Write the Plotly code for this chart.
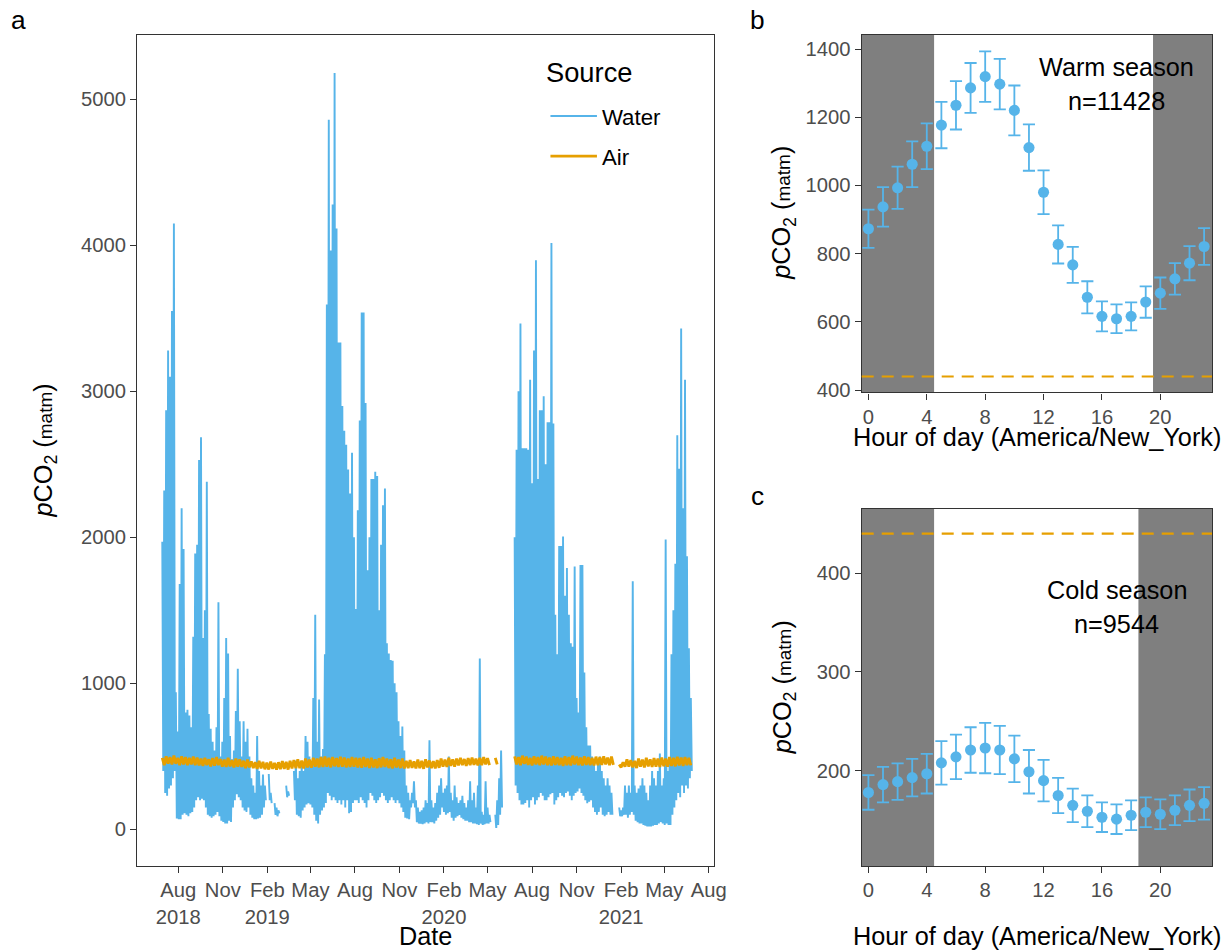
import pandas as pd
import plotly.graph_objects as go

# ---------------- data ----------------
START = pd.Timestamp("2018-06-29")   # first logged day
STEP_W = 4                            # days between water envelope samples
STEP_A = 8                            # days between air envelope samples

# water pCO2 envelope (upper / lower values per 4-day window), None = no data
water_hi = [
    1970, 2320, 2870, 3280, 3100, 3550, 4150, 940, 670, 1680,
    2200, 1920, 800, 820, 780, 700, 1320, 1890, 1950, 2530,
    2685, 1310, 1500, 2380, 790, 690, 600, 540, 700, 1555,
    500, 600, 900, 1310, 1205, 640, 480, 540, 810, 1100,
    740, 500, 740, 600, 690, 500, 350, 300, 250, 640,
    400, 300, 375, 300, None, 380, 250, None, 180, 150,
    130, None, None, None, 300, 260, None, None, 400, 470,
    350, 400, 450, 400, 640, 600, 500, 450, 900, 1470,
    600, 890, 500, 550, 1200, 3595, 4860, 3965, 4280, 5180,
    4115, 3335, 3335, 2900, 2730, 2635, 2465, 2300, 2580, 2000,
    1510, 2185, 2800, 3540, 3540, 2920, 1775, 2000, 2400, 2400,
    2450, 2420, 1500, 1950, 2220, 2335, 1275, 1205, 1160, 1155,
    1000, 940, 740, 640, 705, 540, 300, 250, 200, 250,
    330, 200, 150, 120, 130, 150, 200, 180, 610, 200,
    150, 180, 250, 300, 350, 250, 280, 300, 500, 250,
    200, 300, 220, 180, 200, 230, 180, 150, 200, 330,
    200, 250, 150, 300, 1170, 120, 100, 330, 150, 100,
    None, None, 100, 200, 350, 540, None, None, None, None,
    None, None, 2000, 2600, 3000, 3465, 2610, 2610, 2610, 2600,
    3080, 2370, 3280, 3897, 2400, 2870, 2870, 2966, 2500, 2788,
    2788, 4015, 2780, 1470, 1200, 1940, 1940, 2005, 1600, 1790,
    1470, 1275, 1250, 1800, 900, 800, 1810, 1810, 1075, 700,
    575, 575, 500, 450, 400, 450, 500, 400, 350, 300,
    350, 300, 250, None, None, None, 150, 130, 150, 300,
    250, 300, 250, 1700, 300, 250, 280, 300, 350, 300,
    250, 200, 300, 400, 350, 300, 400, 520, 300, 350,
    1985, 400, 450, 1200, 1500, 1820, 2700, 2470, 3430, 2200,
    3080, 1870, 1240, 900,
]
water_lo = [
    400, 250, 230, 280, 300, 350, 400, 75, 70, 70,
    100, 110, 100, 90, 110, 120, 150, 200, 220, 200,
    210, 200, 150, 100, 90, 80, 90, 100, 120, 90,
    60, 50, 40, 40, 60, 50, 150, 200, 240, 220,
    200, 150, 130, 120, 150, 100, 80, 70, 70, 75,
    80, 100, 150, 200, None, 200, 180, None, 100, 90,
    110, None, None, None, 220, 230, None, None, 200, 100,
    90, 80, 130, 150, 170, 180, 170, 150, 100, 60,
    40, 100, 130, 150, 180, 250, 230, 200, 220, 200,
    180, 200, 170, 200, 150, 200, 110, 120, 180, 200,
    200, 180, 220, 200, 180, 150, 200, 250, 230, 200,
    180, 200, 220, 250, 230, 200, 180, 200, 220, 200,
    180, 200, 180, 150, 120, 80, 75, 70, 150, 180,
    150, 50, 40, 40, 35, 40, 50, 40, 50, 50,
    40, 60, 80, 100, 150, 120, 100, 110, 120, 80,
    60, 80, 90, 100, 80, 70, 60, 60, 50, 50,
    40, 40, 35, 30, 40, 30, 35, 40, 40, 50,
    None, None, 10, 30, 100, 150, None, None, None, None,
    None, None, 300, 250, 200, 170, 170, 180, 200, 150,
    200, 220, 170, 200, 220, 250, 230, 200, 200, 220,
    240, 250, 170, 200, 220, 250, 230, 220, 250, 260,
    230, 200, 230, 250, 260, 280, 250, 230, 200, 180,
    190, 200, 150, 120, 100, 120, 150, 100, 90, 100,
    120, 100, 100, None, None, None, 90, 90, 100, 100,
    80, 100, 120, 100, 60, 50, 40, 40, 30, 25,
    20, 20, 20, 25, 30, 30, 40, 50, 40, 30,
    40, 30, 30, 100, 150, 200, 250, 220, 300, 250,
    300, 280, 350, 400,
]

# air pCO2 envelope (upper / lower values per 8-day window)
air_hi = [
    490, 500, 495, 505, 490, 500, 495, 490, 498, 492,
    485, 490, 480, 488, 495, 482, 478, 490, 475, 485, 480, 470, 478,
    465, 460, 470, 462, 458, 465, 455, 460, 468, 462, 470, 475, 480, 472, 485, 478,
    490, 485, 495, 500, 490, 495, 488, 498, 492, 485, 495, 490, 488, 495, 485, 490,
    480, 488, 495, 485, 480, 490, 478, 485,
    470, 475, 465, 478, 470, 480, 472, 468, 475, 485, 478, 490,
    480, 485, 490, 482, 488, 492, 485, 490, 495, 488,
    None, 490, None, None, None, None,
    500, 495, 505, 498, 490, 500, 495, 505, 498, 492, 500, 495, 490, 500, 495, 505,
    498, 492, 500, 495, 490, 498, 495, 500, 492, 498,
    None,
    445, 460, 480, 475, 470, 485, 478, 490, 480, 488, 485, 492, 485, 495, 490, 498,
    492, 495, 490,
]
air_lo = [
    440, 450, 445, 450, 440, 445, 440, 445, 440, 438,
    435, 440, 432, 436, 440, 430, 428, 432, 425, 430, 428, 420, 425,
    420, 415, 418, 412, 410, 415, 410, 412, 415, 410, 418, 420, 420, 418, 425, 422,
    430, 425, 428, 430, 425, 432, 428, 430, 425, 428, 430, 425, 422, 428, 420, 425,
    420, 425, 428, 420, 418, 425, 420, 418,
    420, 422, 418, 420, 415, 425, 420, 418, 422, 430, 428, 435,
    430, 438, 440, 435, 440, 442, 438, 440, 445, 440,
    None, 445, None, None, None, None,
    445, 440, 448, 442, 438, 445, 440, 445, 440, 438, 442, 440, 435, 440, 438, 445,
    440, 438, 442, 440, 438, 440, 442, 445, 440, 442,
    None,
    425, 430, 430, 425, 420, 430, 425, 432, 428, 430, 428, 432, 430, 435, 432, 438,
    435, 440, 438,
]

date_range = ["2018-05-08", "2021-08-11"]
date_ticks = ["2018-08-01", "2018-11-01", "2019-02-01", "2019-05-01", "2019-08-01",
              "2019-11-01", "2020-02-01", "2020-05-01", "2020-08-01", "2020-11-01",
              "2021-02-01", "2021-05-01", "2021-08-01"]
date_tick_text = ["Aug<br>2018", "Nov", "Feb<br>2019", "May", "Aug", "Nov",
                  "Feb<br>2020", "May", "Aug", "Nov", "Feb<br>2021", "May", "Aug"]

hours = list(range(24))
warm_mean = [873, 937, 993, 1062, 1115, 1177, 1235, 1286, 1319, 1297, 1220, 1111,
             980, 827, 767, 672, 616, 609, 616, 658, 684, 726, 772, 821]
warm_err = [56, 58, 62, 67, 67, 68, 71, 73, 74, 74, 73, 68,
            64, 56, 53, 47, 44, 42, 41, 46, 46, 46, 50, 54]
cold_mean = [178, 186, 189, 193, 197, 208, 214, 221, 223, 221, 212, 199,
             190, 175, 165, 159, 153, 151, 155, 158, 156, 160, 165, 167]
cold_err = [17.5, 18, 18.5, 19, 20, 22, 22.5, 23, 25.5, 24.5, 23.5, 22,
            21, 17.8, 17, 16, 15, 15, 15, 15, 15, 15, 16, 16.5]
air_mean = 440
warm_n = 11428
cold_n = 9544
warm_dark = [(-1, 4.5), (19.5, 25)]
cold_dark = [(-1, 4.5), (18.5, 25)]

# ---------------- style ----------------
BLUE = "#56B4E9"
ORANGE = "#E69F00"
FONT = "Liberation Sans, Arial, Helvetica, sans-serif"
REF_W, REF_H = 1230, 951     # reference picture size; layout given as fractions of it
K = 1.011                    # compensates the slight shrink seen in the capture
W, H = round(REF_W * K), round(REF_H * K)


def s(v):
    return v * K


TICK_FONT = dict(family=FONT, size=s(20), color="#4D4D4D")
TITLE_SIZE = s(25)


def px_x(p):
    return p / REF_W


def px_y(p):
    return 1 - p / REF_H


def envelope(hi, lo, step):
    xs, ys = [], []
    for k, (h, l) in enumerate(zip(hi, lo)):
        xs.append(START + pd.Timedelta(days=step * k))
        ys.append(h)
        xs.append(START + pd.Timedelta(days=step * k + step / 2))
        ys.append(l)
    return xs, ys


wx, wy = envelope(water_hi, water_lo, STEP_W)
ax_, ay_ = envelope(air_hi, air_lo, STEP_A)

fig = go.Figure()
fig.add_trace(go.Scatter(x=wx, y=wy, mode="lines", name="Water", legendgroup="w",
                         line=dict(color=BLUE, width=s(1.9), simplify=False),
                         connectgaps=False, xaxis="x", yaxis="y"))
fig.add_trace(go.Scatter(x=ax_, y=ay_, mode="lines", name="Air", legendgroup="a",
                         line=dict(color=ORANGE, width=s(2.8), simplify=False),
                         connectgaps=False, xaxis="x", yaxis="y"))

for mean, err, xa, ya in [(warm_mean, warm_err, "x2", "y2"),
                          (cold_mean, cold_err, "x3", "y3")]:
    fig.add_trace(go.Scatter(x=hours, y=mean, mode="markers", showlegend=False,
                             marker=dict(color=BLUE, size=s(11)),
                             error_y=dict(type="data", array=err, color=BLUE,
                                          thickness=s(1.8), width=s(6)),
                             xaxis=xa, yaxis=ya))

shapes = []
for (x0, x1) in warm_dark:
    shapes.append(dict(type="rect", xref="x2", yref="y2 domain", x0=x0, x1=x1,
                       y0=0, y1=1, fillcolor="#7F7F7F", line_width=0, layer="below"))
for (x0, x1) in cold_dark:
    shapes.append(dict(type="rect", xref="x3", yref="y3 domain", x0=x0, x1=x1,
                       y0=0, y1=1, fillcolor="#7F7F7F", line_width=0, layer="below"))
for xr, yr in [("x2 domain", "y2"), ("x3 domain", "y3")]:
    shapes.append(dict(type="line", xref=xr, yref=yr, x0=0, x1=1, y0=air_mean,
                       y1=air_mean, line=dict(color=ORANGE, width=s(2), dash="12px,8px"),
                       layer="above"))

axis_common = dict(showline=True, mirror=True, linecolor="#333333", linewidth=s(1.2),
                   ticks="outside", ticklen=s(6), tickwidth=s(1.2), tickcolor="#333333",
                   showgrid=False, zeroline=False, tickfont=TICK_FONT, tickangle=0)

# panel positions in reference pixels
A_L, A_R, A_T, A_B = 137, 713, 35, 865
B_L, B_R, B_T, B_B = 861, 1211, 35, 392
C_T, C_B = 508, 865

fig.update_layout(
    width=W, height=H, margin=dict(l=0, r=0, t=0, b=0, pad=0),
    paper_bgcolor="white", plot_bgcolor="white",
    font=dict(family=FONT, color="black"),
    xaxis=dict(axis_common, domain=[px_x(A_L), px_x(A_R)], anchor="y",
               type="date", range=date_range, tickvals=date_ticks,
               ticktext=date_tick_text),
    yaxis=dict(axis_common, domain=[px_y(A_B), px_y(A_T)], anchor="x",
               range=[-250, 5440], tickvals=[0, 1000, 2000, 3000, 4000, 5000]),
    xaxis2=dict(axis_common, domain=[px_x(B_L), px_x(B_R)], anchor="y2",
                range=[-0.46, 23.54], tickvals=[0, 4, 8, 12, 16, 20]),
    yaxis2=dict(axis_common, domain=[px_y(B_B), px_y(B_T)], anchor="x2",
                range=[393, 1441], tickvals=[400, 600, 800, 1000, 1200, 1400]),
    xaxis3=dict(axis_common, domain=[px_x(B_L), px_x(B_R)], anchor="y3",
                range=[-0.46, 23.54], tickvals=[0, 4, 8, 12, 16, 20]),
    yaxis3=dict(axis_common, domain=[px_y(C_B), px_y(C_T)], anchor="x3",
                range=[103.7, 465.4], tickvals=[200, 300, 400]),
    shapes=shapes,
    legend=dict(x=px_x(545), y=px_y(95), xanchor="left", yanchor="top",
                bgcolor="rgba(0,0,0,0)",
                font=dict(family=FONT, size=s(22), color="black"),
                itemwidth=s(46), tracegroupgap=s(8)),
)

ytitle = "<i>p</i>CO<sub>2</sub> (<span style='font-size:%dpx'>matm</span>)" % round(s(19))
ann = []


def add_text(text, x, y, size, angle=0, **kw):
    ann.append(dict(text=text, xref="paper", yref="paper", x=px_x(x), y=px_y(y),
                    showarrow=False, textangle=angle,
                    font=dict(family=FONT, size=size, color="black"),
                    xanchor="center", yanchor="middle", **kw))


add_text("a", 18, 20, s(26))
add_text("b", 757, 20, s(26))
add_text("c", 757, 495, s(26))
add_text("Source", 589, 72, s(27))
add_text(ytitle, 45, 450, TITLE_SIZE, angle=-90)
add_text(ytitle, 783, 213, TITLE_SIZE, angle=-90)
add_text(ytitle, 783, 687, TITLE_SIZE, angle=-90)
add_text("Date", 425, 935, TITLE_SIZE)
add_text("Hour of day (America/New_York)", 1036, 437, TITLE_SIZE)
add_text("Hour of day (America/New_York)", 1036, 935, TITLE_SIZE)

for txt, xr, yr, yv in [("Warm season", "x2", "y2", 1348), ("n=%d" % warm_n, "x2", "y2", 1248),
                        ("Cold season", "x3", "y3", 383), ("n=%d" % cold_n, "x3", "y3", 349)]:
    ann.append(dict(text=txt, xref=xr, yref=yr, x=17, y=yv, showarrow=False,
                    font=dict(family=FONT, size=s(25), color="black"),
                    xanchor="center", yanchor="middle"))

fig.update_layout(annotations=ann)
fig.write_html("out.html", config={"displayModeBar": False},
               post_script="document.body.style.margin='0px';"
                           "document.documentElement.style.overflow='hidden';"
                           "document.body.style.overflow='hidden';")
